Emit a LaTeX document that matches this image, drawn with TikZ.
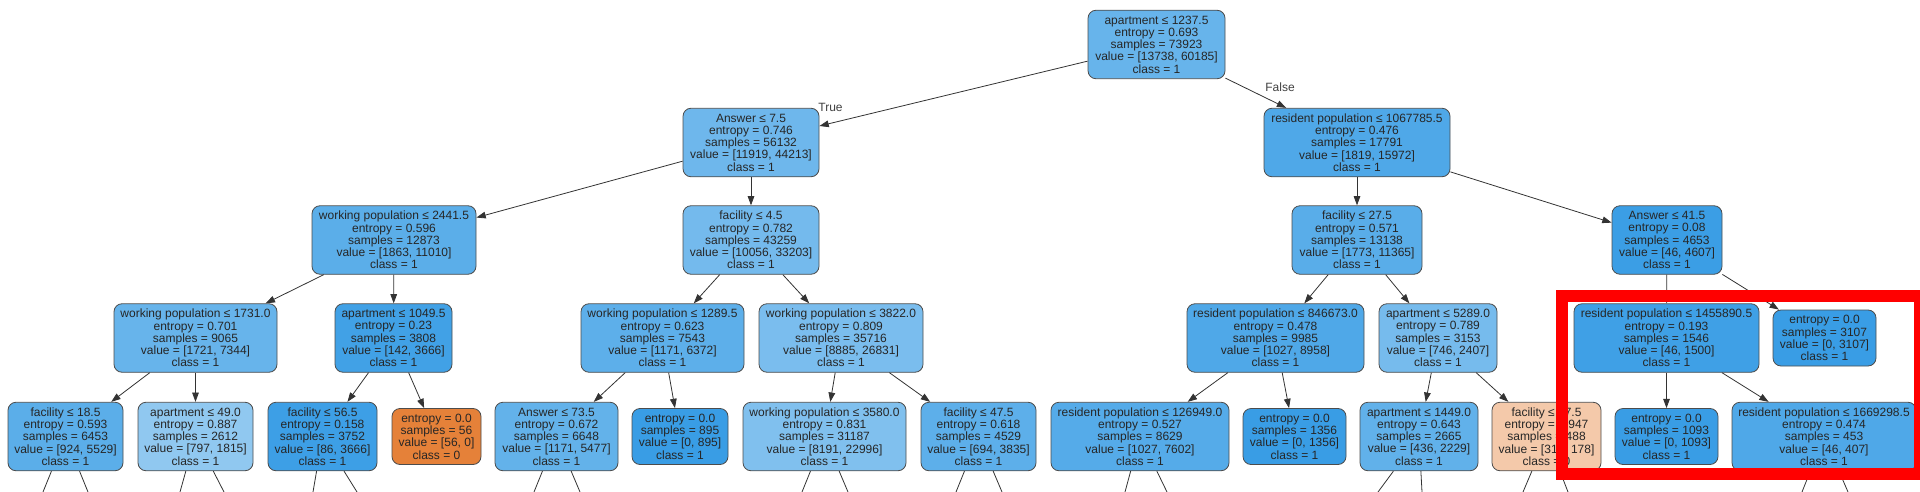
\documentclass[tikz,border=0pt]{standalone}
\usepackage{fontspec}
\setmainfont{Liberation Sans}
\usetikzlibrary{arrows.meta}
\definecolor{clsone}{RGB}{57,157,229}
\definecolor{clszero}{RGB}{229,129,57}
\definecolor{inkgray}{RGB}{51,51,51}

\begin{document}
\begin{tikzpicture}[x=0.75pt, y=-0.75pt,
  treenode/.style={draw=black!70, line width=0.6pt, rounded corners=6pt, align=center,
    inner sep=1pt, text=black!85, font=\fontsize{9}{9.2}\selectfont},
  split/.style={treenode, minimum height=68.5*0.75pt},
  leaf/.style={treenode, minimum height=56*0.75pt},
  boxw/.style={minimum width=#1*0.75pt},
  fillone/.style={fill=clsone!#1!white},
  fillzero/.style={fill=clszero!#1!white},
  treeedge/.style={draw=inkgray, line width=0.6pt, -{Triangle[length=7pt,width=5pt]}},
  treestub/.style={draw=inkgray, line width=0.6pt},
  branch/.style={text=black!75, font=\fontsize{9}{9.2}\selectfont}]
\useasboundingbox (0,0) rectangle (1920,492);
\clip (0,0) rectangle (1920,492);

% root and first split
\node[split, boxw=137, fillone=77] (root) at (1156.5,44.5) {apartment ≤ 1237.5\\entropy = 0.693\\samples = 73923\\value = [13738, 60185]\\class = 1};
\node[split, boxw=136, fillone=73] (ans75) at (751,142.5) {Answer ≤ 7.5\\entropy = 0.746\\samples = 56132\\value = [11919, 44213]\\class = 1};
\node[split, boxw=186, fillone=89] (res1067) at (1357,142.5) {resident population ≤ 1067785.5\\entropy = 0.476\\samples = 17791\\value = [1819, 15972]\\class = 1};

% depth 2
\node[split, boxw=164, fillone=83] (wp2441) at (394,240) {working population ≤ 2441.5\\entropy = 0.596\\samples = 12873\\value = [1863, 11010]\\class = 1};
\node[split, boxw=136, fillone=70] (fac45) at (751,240) {facility ≤ 4.5\\entropy = 0.782\\samples = 43259\\value = [10056, 33203]\\class = 1};
\node[split, boxw=130, fillone=84] (fac275) at (1357,240) {facility ≤ 27.5\\entropy = 0.571\\samples = 13138\\value = [1773, 11365]\\class = 1};
\node[split, boxw=110, fillone=99] (ans415) at (1667,240) {Answer ≤ 41.5\\entropy = 0.08\\samples = 4653\\value = [46, 4607]\\class = 1};

% depth 3
\node[split, boxw=163, fillone=77] (wp1731) at (195.5,338) {working population ≤ 1731.0\\entropy = 0.701\\samples = 9065\\value = [1721, 7344]\\class = 1};
\node[split, boxw=117, fillone=96] (apt1049) at (393.5,338) {apartment ≤ 1049.5\\entropy = 0.23\\samples = 3808\\value = [142, 3666]\\class = 1};
\node[split, boxw=163, fillone=82] (wp1289) at (662.5,338) {working population ≤ 1289.5\\entropy = 0.623\\samples = 7543\\value = [1171, 6372]\\class = 1};
\node[split, boxw=164, fillone=67] (wp3822) at (841,338) {working population ≤ 3822.0\\entropy = 0.809\\samples = 35716\\value = [8885, 26831]\\class = 1};
\node[split, boxw=177, fillone=89] (res846) at (1275.5,338) {resident population ≤ 846673.0\\entropy = 0.478\\samples = 9985\\value = [1027, 8958]\\class = 1};
\node[split, boxw=118, fillone=69] (apt5289) at (1438,338) {apartment ≤ 5289.0\\entropy = 0.789\\samples = 3153\\value = [746, 2407]\\class = 1};
\node[split, boxw=185, fillone=97] (res1455) at (1666.5,338) {resident population ≤ 1455890.5\\entropy = 0.193\\samples = 1546\\value = [46, 1500]\\class = 1};
\node[leaf, boxw=103, fillone=100] (leaf3107) at (1824.5,338) {entropy = 0.0\\samples = 3107\\value = [0, 3107]\\class = 1};

% depth 4
\node[split, boxw=115, fillone=83] (fac185) at (65.5,436.5) {facility ≤ 18.5\\entropy = 0.593\\samples = 6453\\value = [924, 5529]\\class = 1};
\node[split, boxw=115, fillone=56] (apt49) at (195.5,436.5) {apartment ≤ 49.0\\entropy = 0.887\\samples = 2612\\value = [797, 1815]\\class = 1};
\node[split, boxw=109, fillone=98] (fac565) at (322.5,436.5) {facility ≤ 56.5\\entropy = 0.158\\samples = 3752\\value = [86, 3666]\\class = 1};
\node[leaf, boxw=89, fillzero=100] (leaf56) at (436.5,436.5) {entropy = 0.0\\samples = 56\\value = [56, 0]\\class = 0};
\node[split, boxw=123, fillone=79] (ans735) at (556.5,436.5) {Answer ≤ 73.5\\entropy = 0.672\\samples = 6648\\value = [1171, 5477]\\class = 1};
\node[leaf, boxw=96, fillone=100] (leaf895) at (680,436.5) {entropy = 0.0\\samples = 895\\value = [0, 895]\\class = 1};
\node[split, boxw=163, fillone=64] (wp3580) at (824.5,436.5) {working population ≤ 3580.0\\entropy = 0.831\\samples = 31187\\value = [8191, 22996]\\class = 1};
\node[split, boxw=115, fillone=82] (fac475) at (978.5,436.5) {facility ≤ 47.5\\entropy = 0.618\\samples = 4529\\value = [694, 3835]\\class = 1};
\node[split, boxw=178, fillone=86] (res126) at (1140,436.5) {resident population ≤ 126949.0\\entropy = 0.527\\samples = 8629\\value = [1027, 7602]\\class = 1};
\node[leaf, boxw=103, fillone=100] (leaf1356) at (1294.5,436.5) {entropy = 0.0\\samples = 1356\\value = [0, 1356]\\class = 1};
\node[split, boxw=118, fillone=80] (apt1449) at (1419,436.5) {apartment ≤ 1449.0\\entropy = 0.643\\samples = 2665\\value = [436, 2229]\\class = 1};
\node[split, boxw=109, fillzero=43] (fac475b) at (1546.5,436.5) {facility ≤ 47.5\\entropy = 0.947\\samples = 488\\value = [310, 178]\\class = 0};
\node[leaf, boxw=103, fillone=100] (leaf1093) at (1666.5,436.5) {entropy = 0.0\\samples = 1093\\value = [0, 1093]\\class = 1};
\node[split, boxw=184, fillone=89] (res1669) at (1824,436.5) {resident population ≤ 1669298.5\\entropy = 0.474\\samples = 453\\value = [46, 407]\\class = 1};

% branches
\draw[treeedge] (root) -- (ans75);
\draw[treeedge] (root) -- (res1067);
\node[branch] (truelbl) at (830.5,107.5) {True};
\node[branch] (falselbl) at (1280,87.5) {False};
\draw[treeedge] (ans75) -- (wp2441);
\draw[treeedge] (ans75) -- (fac45);
\draw[treeedge] (res1067) -- (fac275);
\draw[treeedge] (res1067) -- (ans415);
\draw[treeedge] (wp2441) -- (wp1731);
\draw[treeedge] (wp2441) -- (apt1049);
\draw[treeedge] (fac45) -- (wp1289);
\draw[treeedge] (fac45) -- (wp3822);
\draw[treeedge] (fac275) -- (res846);
\draw[treeedge] (fac275) -- (apt5289);
\draw[treeedge] (ans415) -- (res1455);
\draw[treeedge] (ans415) -- (leaf3107);
\draw[treeedge] (wp1731) -- (fac185);
\draw[treeedge] (wp1731) -- (apt49);
\draw[treeedge] (apt1049) -- (fac565);
\draw[treeedge] (apt1049) -- (leaf56);
\draw[treeedge] (wp1289) -- (ans735);
\draw[treeedge] (wp1289) -- (leaf895);
\draw[treeedge] (wp3822) -- (wp3580);
\draw[treeedge] (wp3822) -- (fac475);
\draw[treeedge] (res846) -- (res126);
\draw[treeedge] (res846) -- (leaf1356);
\draw[treeedge] (apt5289) -- (apt1449);
\draw[treeedge] (apt5289) -- (fac475b);
\draw[treeedge] (res1455) -- (leaf1093);
\draw[treeedge] (res1455) -- (res1669);

% cut-off branches below the page
\coordinate (fac185l) at (43,492);   \coordinate (fac185r) at (88,492);
\coordinate (apt49l) at (180,492);   \coordinate (apt49r) at (224,492);
\coordinate (fac565l) at (313,492);  \coordinate (fac565r) at (357,492);
\coordinate (ans735l) at (534,492);  \coordinate (ans735r) at (580,492);
\coordinate (wp3580l) at (802,492);  \coordinate (wp3580r) at (848,492);
\coordinate (fac475l) at (956,492);  \coordinate (fac475r) at (1002,492);
\coordinate (res126l) at (1125,492); \coordinate (res126r) at (1167,492);
\coordinate (apt1449l) at (1378,492); \coordinate (apt1449r) at (1422,492);
\coordinate (fac475bl) at (1523,492); \coordinate (fac475br) at (1568,492);
\coordinate (res1669l) at (1802,492); \coordinate (res1669r) at (1848,492);
\draw[treestub] (fac185) -- (fac185l);   \draw[treestub] (fac185) -- (fac185r);
\draw[treestub] (apt49) -- (apt49l);     \draw[treestub] (apt49) -- (apt49r);
\draw[treestub] (fac565) -- (fac565l);   \draw[treestub] (fac565) -- (fac565r);
\draw[treestub] (ans735) -- (ans735l);   \draw[treestub] (ans735) -- (ans735r);
\draw[treestub] (wp3580) -- (wp3580l);   \draw[treestub] (wp3580) -- (wp3580r);
\draw[treestub] (fac475) -- (fac475l);   \draw[treestub] (fac475) -- (fac475r);
\draw[treestub] (res126) -- (res126l);   \draw[treestub] (res126) -- (res126r);
\draw[treestub] (apt1449) -- (apt1449l); \draw[treestub] (apt1449) -- (apt1449r);
\draw[treestub] (fac475b) -- (fac475bl); \draw[treestub] (fac475b) -- (fac475br);
\draw[treestub] (res1669) -- (res1669l); \draw[treestub] (res1669) -- (res1669r);

% highlight frame
\draw[red, line width=12*0.75pt] (1562,296) rectangle (1920,474);
\end{tikzpicture}
\end{document}
